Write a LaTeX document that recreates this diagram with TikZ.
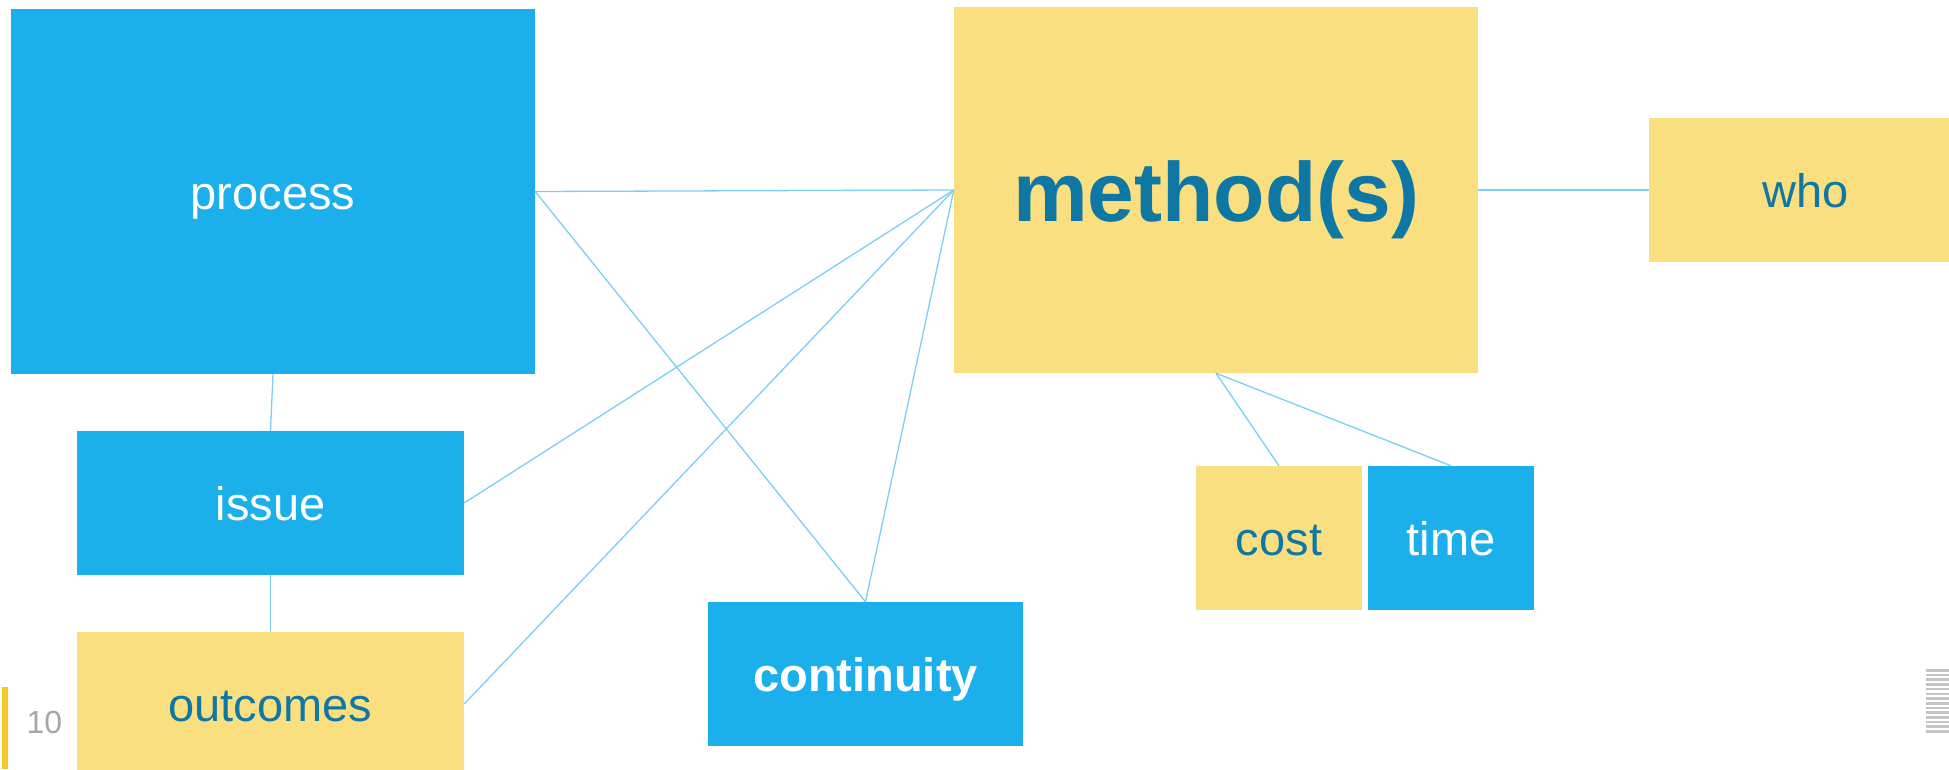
\documentclass[tikz,border=0pt]{standalone}
\usepackage{fontspec}
\setmainfont{Liberation Sans}
\definecolor{boxblue}{HTML}{1BAFEB}
\definecolor{boxyellow}{HTML}{FADF80}
\definecolor{txtblue}{HTML}{0F77A3}
\definecolor{linkblue}{HTML}{7CCEF2}
\definecolor{pagegray}{HTML}{A6A6A6}
\definecolor{baryellow}{HTML}{F9C623}
\definecolor{stripegray}{HTML}{C4C4C4}
\tikzset{
  box/.style={rectangle, inner sep=0pt, draw=none, font=\fontsize{47}{56}\selectfont,
    text height=45pt, text depth=10pt},
  bluebox/.style={box, fill=boxblue, text=white},
  yellowbox/.style={box, fill=boxyellow, text=txtblue},
  link/.style={draw=linkblue, line width=1.3pt}
}
\begin{document}
\begin{tikzpicture}[x=1pt,y=-1pt]
\useasboundingbox (0,0) rectangle (1949,769);
\clip (0,0) rectangle (1949,769);
% boxes
\node[bluebox, minimum width=524pt, minimum height=365pt] (process) at (273,191.5) {process};
\node[yellowbox, minimum width=524pt, minimum height=366pt, font=\fontsize{84}{100}\selectfont\bfseries,
  text height=80pt, text depth=17pt] (method) at (1216,190) {method(s)};
\node[yellowbox, minimum width=314pt, minimum height=144pt] (who) at (1806,190) {who};
\node[bluebox, minimum width=387pt, minimum height=144pt] (issue) at (270.5,503) {issue};
\node[yellowbox, minimum width=387pt, minimum height=144pt] (outcomes) at (270.5,704) {outcomes};
\node[bluebox, minimum width=315pt, minimum height=144pt, font=\fontsize{47}{56}\selectfont\bfseries] (continuity) at (865.5,674) {continuity};
\node[yellowbox, minimum width=166pt, minimum height=144pt] (cost) at (1279,538) {cost};
\node[bluebox, minimum width=166pt, minimum height=144pt] (time) at (1451,538) {time};
% connectors
\draw[link] (method.west) -- (process.east);
\draw[link] (method.west) -- (issue.east);
\draw[link] (method.west) -- (outcomes.east);
\draw[link] (method.west) -- (continuity.north);
\draw[link] (process.east) -- (continuity.north);
\draw[link] (process.south) -- (issue.north);
\draw[link] (issue.south) -- (outcomes.north);
\draw[link] (method.east) -- (who.west);
\draw[link] (method.south) -- (cost.north);
\draw[link] (method.south) -- (time.north);
% page marker
\fill[baryellow] (2,687) rectangle (8,769);
\node[text=pagegray, font=\fontsize{32}{38}\selectfont, inner sep=0pt] (pagenum) at (44.5,722) {10};
% stripes icon
\foreach \i in {0,...,13} {
  \fill[stripegray] (1926,{669+\i*4.7}) rectangle (1949,{671.6+\i*4.7});
}
\end{tikzpicture}
\end{document}
